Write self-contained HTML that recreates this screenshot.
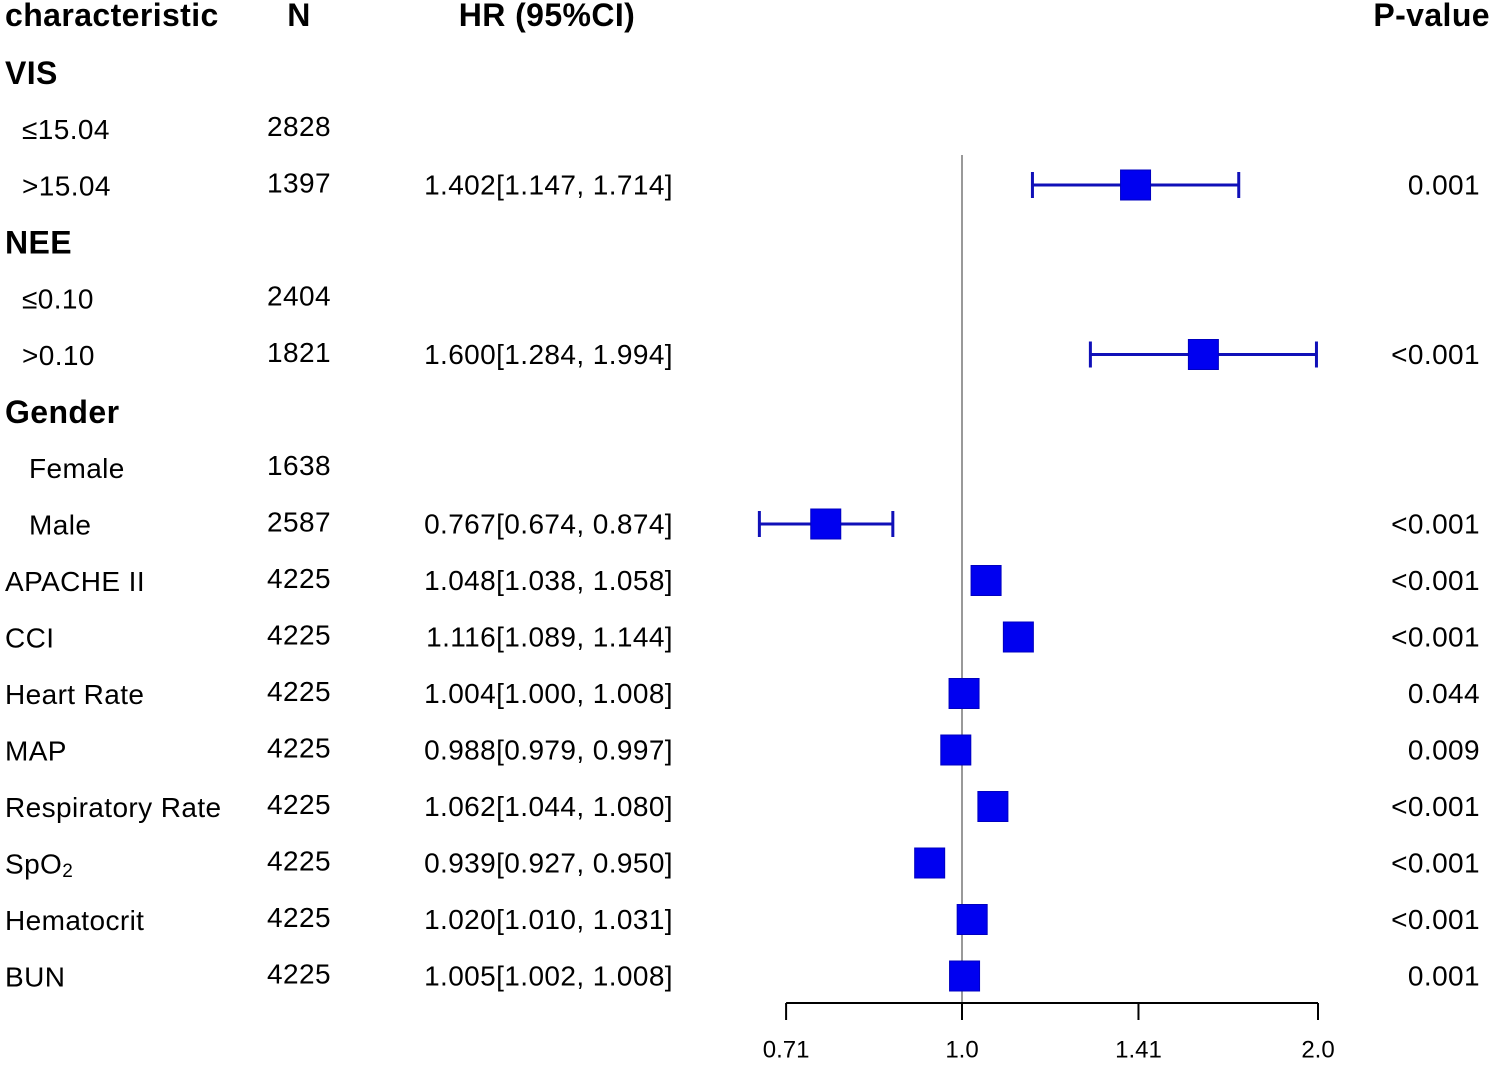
<!DOCTYPE html>
<html><head><meta charset="utf-8">
<style>
body{margin:0;background:#fff;}
svg{display:block;font-family:"Liberation Sans",Arial,sans-serif;}
</style></head>
<body>
<svg id="chart" width="1500" height="1067" viewBox="0 0 1500 1067"></svg>
<script>
const labels=["VIS","≤15.04",">15.04","NEE","≤0.10",">0.10","Gender","Female","Male","APACHE II","CCI","Heart Rate","MAP","Respiratory Rate","SpO2","Hematocrit","BUN"];
const indents=[0,1,1,0,1,1,0,2,2,0,0,0,0,0,0,0,0];
const isGroup=[1,0,0,1,0,0,1,0,0,0,0,0,0,0,0,0,0];
const nValues=["","2828","1397","","2404","1821","","1638","2587","4225","4225","4225","4225","4225","4225","4225","4225"];
const hr=[null,null,1.402,null,null,1.600,null,null,0.767,1.048,1.116,1.004,0.988,1.062,0.939,1.020,1.005];
const lo=[null,null,1.147,null,null,1.284,null,null,0.674,1.038,1.089,1.000,0.979,1.044,0.927,1.010,1.002];
const hi=[null,null,1.714,null,null,1.994,null,null,0.874,1.058,1.144,1.008,0.997,1.080,0.950,1.031,1.008];
const pValues=["","","0.001","","","<0.001","","","<0.001","<0.001","<0.001","0.044","0.009","<0.001","<0.001","<0.001","0.001"];
const ticks=[0.71,1.0,1.41,2.0];
const tickLabels=["0.71","1.0","1.41","2.0"];

const NS="http://www.w3.org/2000/svg";
const svg=document.getElementById('chart');
function x(v){return 962+356*Math.log2(v);}
function y(i){return 72+i*56.5;}
function mk(tag,attrs,parent){const e=document.createElementNS(NS,tag);for(const k in attrs)e.setAttribute(k,attrs[k]);(parent||svg).appendChild(e);return e;}
function txt(s,px,py,opts){const t=mk('text',Object.assign({x:px,y:py,'font-size':28,'letter-spacing':0.4,fill:'#000','dominant-baseline':'central'},opts||{}));t.textContent=s;return t;}
const HB={'font-weight':'bold','font-size':32};

let h;
h=txt("characteristic",5,15,HB);


h=txt("N",299,15,Object.assign({'text-anchor':'middle'},HB));


h=txt("HR (95%CI)",547,15,Object.assign({'text-anchor':'middle'},HB));


h=txt("P-value",1490,15,Object.assign({'text-anchor':'end'},HB));



const ref=mk('line',{x1:x(1),x2:x(1),y1:155,y2:1003,stroke:'#999','stroke-width':2});



labels.forEach((lab,i)=>{
  const yy=y(i);
  const xi=[5,22,29][indents[i]];
  let t;
  if(lab==="SpO2"){
    t=txt("SpO",xi,yy+1);
    const s=mk('tspan',{'font-size':19,dy:7},t);s.textContent="2";
  } else {
    t=txt(lab,xi,yy+1,isGroup[i]?HB:{});
  }
  
  
  if(nValues[i]){
    const n=txt(nValues[i],299,yy-2,{'text-anchor':'middle'});
    
    
  }
  if(hr[i]!==null){
    const ht=txt(hr[i].toFixed(3)+"["+lo[i].toFixed(3)+", "+hi[i].toFixed(3)+"]",673,yy,{'text-anchor':'end'});
    
    
    const g=mk('g',{});
    
    
    const x1=x(lo[i]),x2=x(hi[i]);
    if(x2-x1>30){
      mk('line',{x1:x1,x2:x2,y1:yy,y2:yy,stroke:'#1010b8','stroke-width':3},g);
      mk('line',{x1:x1,x2:x1,y1:yy-13,y2:yy+13,stroke:'#1010b8','stroke-width':3},g);
      mk('line',{x1:x2,x2:x2,y1:yy-13,y2:yy+13,stroke:'#1010b8','stroke-width':3},g);
    }
    mk('rect',{x:x(hr[i])-15,y:yy-15,width:30,height:30,fill:'#0000f0',stroke:'#0000c0','stroke-width':1},g);
  }
  if(pValues[i]){
    const p=txt(pValues[i],1480,yy,{'text-anchor':'end'});
    
    
  }
});

const ax=mk('g',{});


mk('line',{x1:x(ticks[0]),x2:x(ticks[ticks.length-1]),y1:1003,y2:1003,stroke:'#000','stroke-width':2},ax);
ticks.forEach((v,i)=>{
  mk('line',{x1:x(v),x2:x(v),y1:1003,y2:1020,stroke:'#000','stroke-width':2},ax);
  const t=txt(tickLabels[i],x(v),1050,{'text-anchor':'middle','font-size':24,'letter-spacing':0});
  
  
});
</script>
</body></html>
